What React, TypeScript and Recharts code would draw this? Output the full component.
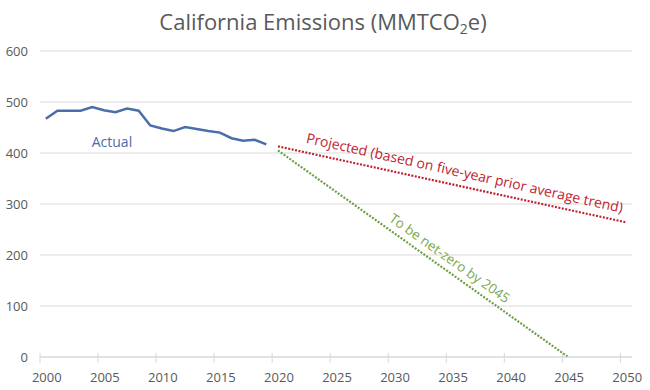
import { LineChart, Line, XAxis, YAxis, CartesianGrid, ReferenceDot } from "recharts"

const actualYears = [2000, 2001, 2002, 2003, 2004, 2005, 2006, 2007, 2008, 2009, 2010, 2011, 2012, 2013, 2014, 2015, 2016, 2017, 2018, 2019]
const actualValues = [467, 483, 483, 483, 490, 484, 480, 487, 483, 454, 448, 443, 451, 447, 443, 440, 429, 424, 426, 417]

const projectedYears = [2020, 2050]
const projectedValues = [413, 264]

const netZeroYears = [2020, 2045]
const netZeroValues = [405, 0]

const xTicks = [2000, 2005, 2010, 2015, 2020, 2025, 2030, 2035, 2040, 2045, 2050]
const yTicks = [0, 100, 200, 300, 400, 500, 600]

const actual = actualYears.map((year, i) => ({ year, value: actualValues[i] }))
const projected = projectedYears.map((year, i) => ({ year, value: projectedValues[i] }))
const netZero = netZeroYears.map((year, i) => ({ year, value: netZeroValues[i] }))

const FONT = "'Open Sans', sans-serif"
const GREY = "#595959"
const BLUE = "#4a6ea9"
const RED = "#c0222e"
const GREEN = "#6e9f43"

// excel puts tick marks between categories, labels in the middle
const HALF_STEP = 5.8

function XTick(props: any) {
  const { x, y, payload } = props
  return (
    <g>
      <line x1={x - HALF_STEP} x2={x - HALF_STEP} y1={y - 4} y2={y + 6} stroke="#d9d9d9" />
      <text x={x + 1} y={y + 20} textAnchor="middle" dominantBaseline="central" fill={GREY} fontSize={13} fontFamily={FONT}>
        {payload.value}
      </text>
    </g>
  )
}

function note(text: string, color: string, angle: number, size: number) {
  return (props: any) => (
    <text
      x={props.cx}
      y={props.cy}
      textAnchor="middle"
      dominantBaseline="central"
      fill={color}
      fontSize={size}
      fontFamily={FONT}
      transform={`rotate(${angle} ${props.cx} ${props.cy})`}
    >
      {text}
    </text>
  )
}

export default function App() {
  return (
    <div style={{ position: "absolute", left: 0, top: 0, width: 650, height: 390, background: "#fff", fontFamily: FONT }}>
      <div style={{ position: "absolute", left: 0, width: 646, top: 5, textAlign: "center", fontSize: 22, color: GREY, lineHeight: "32px" }}>
        California Emissions (MMTCO<sub style={{ fontSize: 14, verticalAlign: "-4px" }}>2</sub>e)
      </div>
      <LineChart width={650} height={390} data={actual} margin={{ top: 51, right: 18, bottom: 3, left: 0 }}>
        <CartesianGrid horizontal vertical={false} stroke="#d9d9d9" />
        <XAxis
          dataKey="year"
          type="number"
          domain={[1999.5, 2050.5]}
          ticks={xTicks}
          allowDataOverflow
          height={30}
          stroke="#d9d9d9"
          tickLine={false}
          tickSize={0}
          tickMargin={0}
          tick={<XTick />}
        />
        <YAxis
          domain={[0, 600]}
          ticks={yTicks}
          width={40}
          axisLine={false}
          tickLine={false}
          tickSize={0}
          tickMargin={12}
          tick={{ fill: GREY, fontSize: 13, fontFamily: FONT }}
        />
        <Line data={actual} dataKey="value" stroke={BLUE} strokeWidth={2.5} dot={false} isAnimationActive={false} />
        <Line data={projected} dataKey="value" stroke={RED} strokeWidth={2.2} strokeDasharray="2 1.5" dot={false} isAnimationActive={false} />
        <Line data={netZero} dataKey="value" stroke={GREEN} strokeWidth={2.2} strokeDasharray="2 1.5" dot={false} isAnimationActive={false} />
        <ReferenceDot x={2005.7} y={423} r={0} shape={note("Actual", BLUE, 0, 14)} />
        <ReferenceDot x={2036.1} y={362} r={0} shape={note("Projected (based on five-year prior average trend)", RED, 12.5, 14)} />
        <ReferenceDot x={2034.8} y={194} r={0} shape={note("To be net-zero by 2045", "#78a94e", 35.3, 13.5)} />
      </LineChart>
    </div>
  )
}
